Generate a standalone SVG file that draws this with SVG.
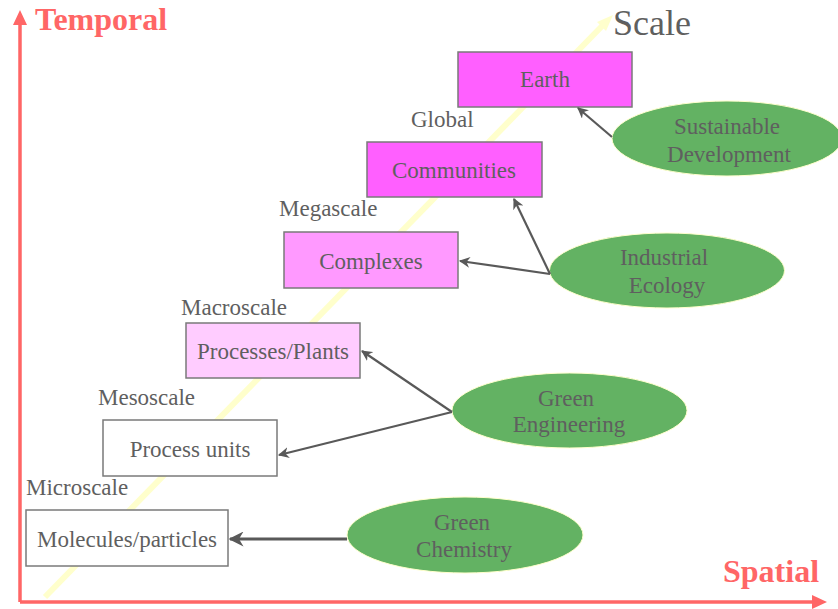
<svg xmlns="http://www.w3.org/2000/svg" width="838" height="609" viewBox="0 0 838 609">
<defs>
<style>
.t{font-family:"Liberation Serif","Times New Roman",serif;font-size:23px;fill:#5f5f5f;text-anchor:middle}
.lbl{font-family:"Liberation Serif","Times New Roman",serif;font-size:23px;fill:#5f5f5f}
.ax{font-family:"Liberation Serif","Times New Roman",serif;font-size:32px;font-weight:bold;fill:#FF6666}
.box{stroke:#7a7a7a;stroke-width:1.5}
.ell{fill:#63B263;stroke:#FFFFCC;stroke-width:1}
.con{stroke:#595959;stroke-width:2.2;fill:none;marker-end:url(#ah)}
</style>
<marker id="ah" viewBox="0 0 10 10" refX="9" refY="5" markerWidth="5" markerHeight="5" orient="auto" markerUnits="strokeWidth">
<path d="M0,0 L10,5 L0,10 L3,5 Z" fill="#595959"/>
</marker>
</defs>
<rect width="838" height="609" fill="#fff"/>
<g id="scale-axis">
<line x1="45" y1="597" x2="605" y2="23" stroke="#FFFFCC" stroke-width="6"/>
<path d="M613,15 L597,22 L606,31 Z" fill="#FFFFCC"/>
<text x="613" y="35" font-family="Liberation Serif, serif" font-size="36" fill="#5f5f5f">Scale</text>
</g>
<g id="axes">
<line x1="20" y1="22" x2="20" y2="602" stroke="#FF6666" stroke-width="3.5"/>
<path d="M20,10 L27,25 L13,25 Z" fill="#FF6666"/>
<line x1="20" y1="602" x2="815" y2="602" stroke="#FF6666" stroke-width="3.5"/>
<path d="M827,602 L812,595 L812,609 Z" fill="#FF6666"/>
<text class="ax" x="35" y="30">Temporal</text>
<text class="ax" x="723" y="582">Spatial</text>
</g>
<g id="labels">
<text class="lbl" x="411" y="127">Global</text>
<text class="lbl" x="279" y="216">Megascale</text>
<text class="lbl" x="181" y="315">Macroscale</text>
<text class="lbl" x="98" y="405">Mesoscale</text>
<text class="lbl" x="26" y="495">Microscale</text>
</g>
<g id="earth"><rect class="box" x="458" y="52" width="174" height="55" fill="#FF5FFF"/><text class="t" x="545" y="87">Earth</text></g>
<g id="communities"><rect class="box" x="367" y="142" width="175" height="55" fill="#FF5FFF"/><text class="t" x="454" y="178">Communities</text></g>
<g id="complexes"><rect class="box" x="284" y="232" width="174" height="56" fill="#FF99FF"/><text class="t" x="371" y="269">Complexes</text></g>
<g id="processes-plants"><rect class="box" x="186" y="323" width="174" height="55" fill="#FFCCFF"/><text class="t" x="273" y="359">Processes/Plants</text></g>
<g id="process-units"><rect class="box" x="103" y="420" width="174" height="56" fill="#FFFFFF"/><text class="t" x="190" y="457">Process units</text></g>
<g id="molecules"><rect class="box" x="26" y="510" width="202" height="56" fill="#FFFFFF"/><text class="t" x="127" y="547">Molecules/particles</text></g>
<g id="sustainable-development"><ellipse class="ell" cx="727" cy="138.5" rx="115" ry="37.5"/><text class="t" x="727" y="134">Sustainable</text><text class="t" x="729" y="162">Development</text></g>
<g id="industrial-ecology"><ellipse class="ell" cx="667" cy="270.5" rx="117.5" ry="37.5"/><text class="t" x="664" y="265">Industrial</text><text class="t" x="667" y="293">Ecology</text></g>
<g id="green-engineering"><ellipse class="ell" cx="569.5" cy="410.5" rx="117.5" ry="37.5"/><text class="t" x="566" y="406">Green</text><text class="t" x="569" y="432">Engineering</text></g>
<g id="green-chemistry"><ellipse class="ell" cx="465" cy="535" rx="118" ry="38"/><text class="t" x="462" y="530">Green</text><text class="t" x="464" y="557">Chemistry</text></g>
<g id="connectors">
<line class="con" x1="612" y1="137" x2="578" y2="108"/>
<line class="con" x1="550" y1="274" x2="514" y2="199"/>
<line class="con" x1="550" y1="274" x2="460" y2="261"/>
<line class="con" x1="452" y1="412" x2="362" y2="351"/>
<line class="con" x1="452" y1="412" x2="279" y2="455"/>
<line class="con" x1="347" y1="539" x2="230" y2="539" style="stroke-width:3"/>
</g>
</svg>
